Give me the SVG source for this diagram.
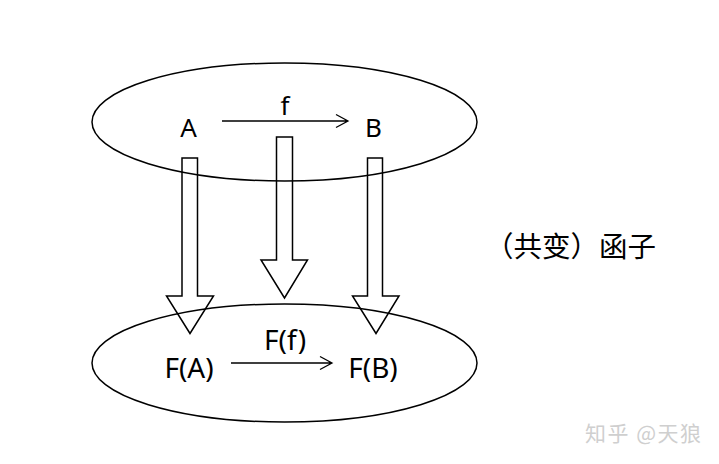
<svg xmlns="http://www.w3.org/2000/svg" width="719" height="464" viewBox="0 0 719 464">
<style>
.ell{fill:none;stroke:#000;stroke-width:1.5}
.lbl{font-family:"Noto Sans","Open Sans","Liberation Sans",sans-serif;font-size:26px;fill:#000;text-anchor:middle}
.lbl2{font-family:"Noto Sans","Open Sans","Liberation Sans",sans-serif;font-size:28px;fill:#000;text-anchor:middle}
.cjk{font-family:"Noto Sans CJK SC","Noto Sans",sans-serif;font-size:28.5px;fill:#000}
.wm{font-family:"Noto Sans CJK SC","Noto Sans",sans-serif;font-size:21px;fill:#cfcfcf;letter-spacing:1.5px}
.big{fill:none;stroke:#000;stroke-width:1.5;stroke-linejoin:miter}
.line{fill:none;stroke:#000;stroke-width:1.3}
</style>
<rect width="719" height="464" fill="#fff"/>
<g id="category-top">
<ellipse class="ell" cx="284.5" cy="122" rx="192.5" ry="59"/>
</g>
<g id="category-bottom">
<ellipse class="ell" cx="284.5" cy="363" rx="192.5" ry="59"/>
</g>
<g id="node-A"><text class="lbl" x="188.5" y="137">A</text></g>
<g id="node-B"><text class="lbl" x="373.5" y="137">B</text></g>
<g id="node-FA"><text class="lbl2" x="189" y="378">F(A)</text></g>
<g id="node-FB"><text class="lbl2" x="373" y="378">F(B)</text></g>
<g id="connectors">
<path class="line" d="M222 121 H348 M336 114.5 L348 121 L336 127.5"/>
<text class="lbl" x="285" y="115">f</text>
<path class="line" d="M231 363 H332 M320 356.5 L332 363 L320 369.5"/>
<text class="lbl2" x="285" y="350">F(f)</text>
<path class="big" d="M182 158 H197.5 V296 H213.5 L190 333.5 L166.5 296 H182 Z"/>
<path class="big" d="M276.5 137 H292.5 V260 H307.5 L284.5 298 L261 260 H276.5 Z"/>
<path class="big" d="M367.5 158 H382.5 V296 H399 L376 333.5 L352.5 296 H367.5 Z"/>
</g>
<g id="label-functor"><text class="cjk" x="485" y="257">（共变）函子</text></g>
<g id="watermark"><text class="wm" x="585" y="441">知乎 @天狼</text></g>
</svg>
